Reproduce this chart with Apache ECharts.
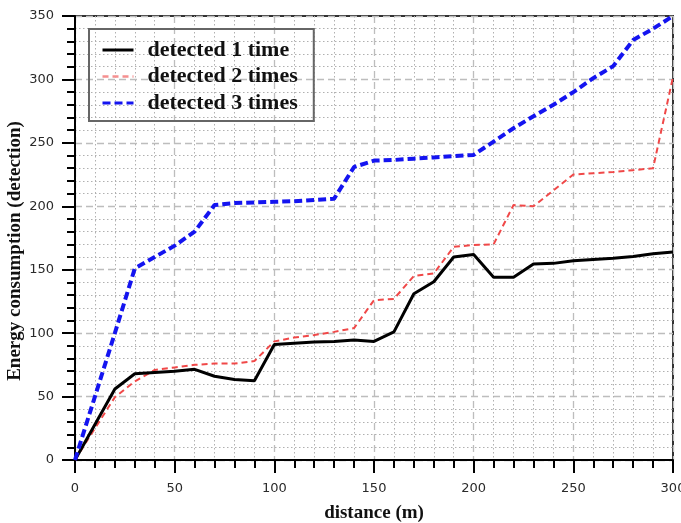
<!DOCTYPE html>
<html>
<head>
<meta charset="utf-8">
<script src="https://cdn.jsdelivr.net/npm/echarts@6/dist/echarts.min.js"></script>
<style>
  html, body { margin: 0; padding: 0; background: #fff; }
  #chart { width: 681px; height: 523px; }
</style>
</head>
<body>
<div id="chart"></div>
<script>
// Distance samples (m)
const distance = [0, 10, 20, 30, 40, 50, 60, 70, 80, 90, 100, 110, 120, 130, 140, 150,
  160, 170, 180, 190, 200, 210, 220, 230, 240, 250, 260, 270, 280, 290, 300];

// Energy consumption per detection count
const detected1 = [0, 28, 56, 68, 69, 70, 71.5, 66, 63.5, 62.5, 91, 92, 93, 93.5, 94.5, 93.5,
  101, 131, 140.5, 160, 162, 144, 144, 154.5, 155, 157, 158, 159, 160.5, 162.5, 164];
const detected2 = [0, 25, 49.5, 62, 71, 73, 75, 76, 76, 78, 93.5, 96.5, 98.5, 101, 104, 126,
  127, 145, 147, 168, 169.5, 170, 201, 200, 212.5, 225, 226, 227, 228.5, 230, 302];
const detected3 = [0, 50, 100, 151, 160, 169, 180, 201, 202.5, 203, 203.5, 204, 205, 206, 231, 236,
  236.5, 237.5, 238.5, 239.5, 240.5, 251, 261.5, 271, 280, 290, 301, 310.5, 331, 340, 350];

const seriesNames = ['detected 1 time', 'detected 2 times', 'detected 3 times'];

const pairs = (ys) => distance.map((x, i) => [x, ys[i]]);

const chart = echarts.init(document.getElementById('chart'), null, { renderer: 'canvas' });

const axisLabelStyle = { color: '#2a2a2a', fontFamily: 'DejaVu Sans', fontSize: 13 };
const nameStyle = { color: '#111', fontFamily: 'Liberation Serif', fontWeight: 'bold', fontSize: 19 };

function valueAxis(max, extra) {
  return Object.assign({
    type: 'value',
    min: 0,
    max: max,
    interval: 50,
    axisLine: { show: true, onZero: false, lineStyle: { color: '#000', width: 2 } },
    axisTick: { show: true, inside: false, length: 13, lineStyle: { color: '#000', width: 2 } },
    minorTick: { show: true, splitNumber: 5, length: 8, lineStyle: { color: '#000', width: 2 } },
    splitLine: { show: true, lineStyle: { color: '#bdbdbd', width: 1.3, type: [7, 4] } },
    minorSplitLine: { show: true, lineStyle: { color: '#b0b0b0', width: 1, type: [1.5, 2.5] } },
    nameTextStyle: nameStyle
  }, extra);
}

chart.setOption({
  backgroundColor: '#fff',
  animation: false,
  grid: {
    left: 75, right: 8, top: 16, bottom: 63,
    outerBoundsMode: 'none',
    containLabel: false,
    show: true, borderColor: '#333', borderWidth: 2, backgroundColor: 'transparent'
  },
  legend: {
    orient: 'vertical',
    left: 89, top: 29,
    backgroundColor: 'transparent',
    borderColor: '#666',
    borderWidth: 2,
    padding: [10, 16, 7, 12],
    itemGap: 4.5,
    itemWidth: 31,
    itemHeight: 14,
    itemStyle: { opacity: 0 },
    textStyle: {
      color: '#111', fontFamily: 'Liberation Serif', fontWeight: 'bold',
      fontSize: 22, lineHeight: 22, padding: [0, 0, 0, 9]
    },
    data: [
      { name: seriesNames[0], lineStyle: { width: 3 } },
      { name: seriesNames[1], lineStyle: { color: '#f58f8f', width: 2.5 } },
      { name: seriesNames[2], lineStyle: { width: 3 } }
    ]
  },
  xAxis: valueAxis(300, {
    name: 'distance (m)',
    nameLocation: 'middle',
    nameGap: 44,
    axisLabel: Object.assign({ margin: 22 }, axisLabelStyle)
  }),
  yAxis: valueAxis(350, {
    name: 'Energy consumption (detection)',
    nameLocation: 'middle',
    nameGap: 50,
    nameMoveOverlap: false,
    nameTextStyle: Object.assign({ padding: [0, 26, 0, 0] }, nameStyle),
    axisLabel: Object.assign({ margin: 21 }, axisLabelStyle)
  }),
  series: [
    {
      name: seriesNames[0], type: 'line', data: pairs(detected1),
      symbol: 'none', showSymbol: false, z: 3,
      lineStyle: { color: '#000', width: 3, type: 'solid' },
      itemStyle: { color: '#000' }
    },
    {
      name: seriesNames[1], type: 'line', data: pairs(detected2),
      symbol: 'none', showSymbol: false, z: 2,
      lineStyle: { color: '#f04848', width: 2, type: [6, 4] },
      itemStyle: { color: '#f04848' }
    },
    {
      name: seriesNames[2], type: 'line', data: pairs(detected3),
      symbol: 'none', showSymbol: false, z: 4,
      lineStyle: { color: '#1414f0', width: 4, type: [8, 4] },
      itemStyle: { color: '#1414f0' }
    }
  ]
});
</script>
</body>
</html>
